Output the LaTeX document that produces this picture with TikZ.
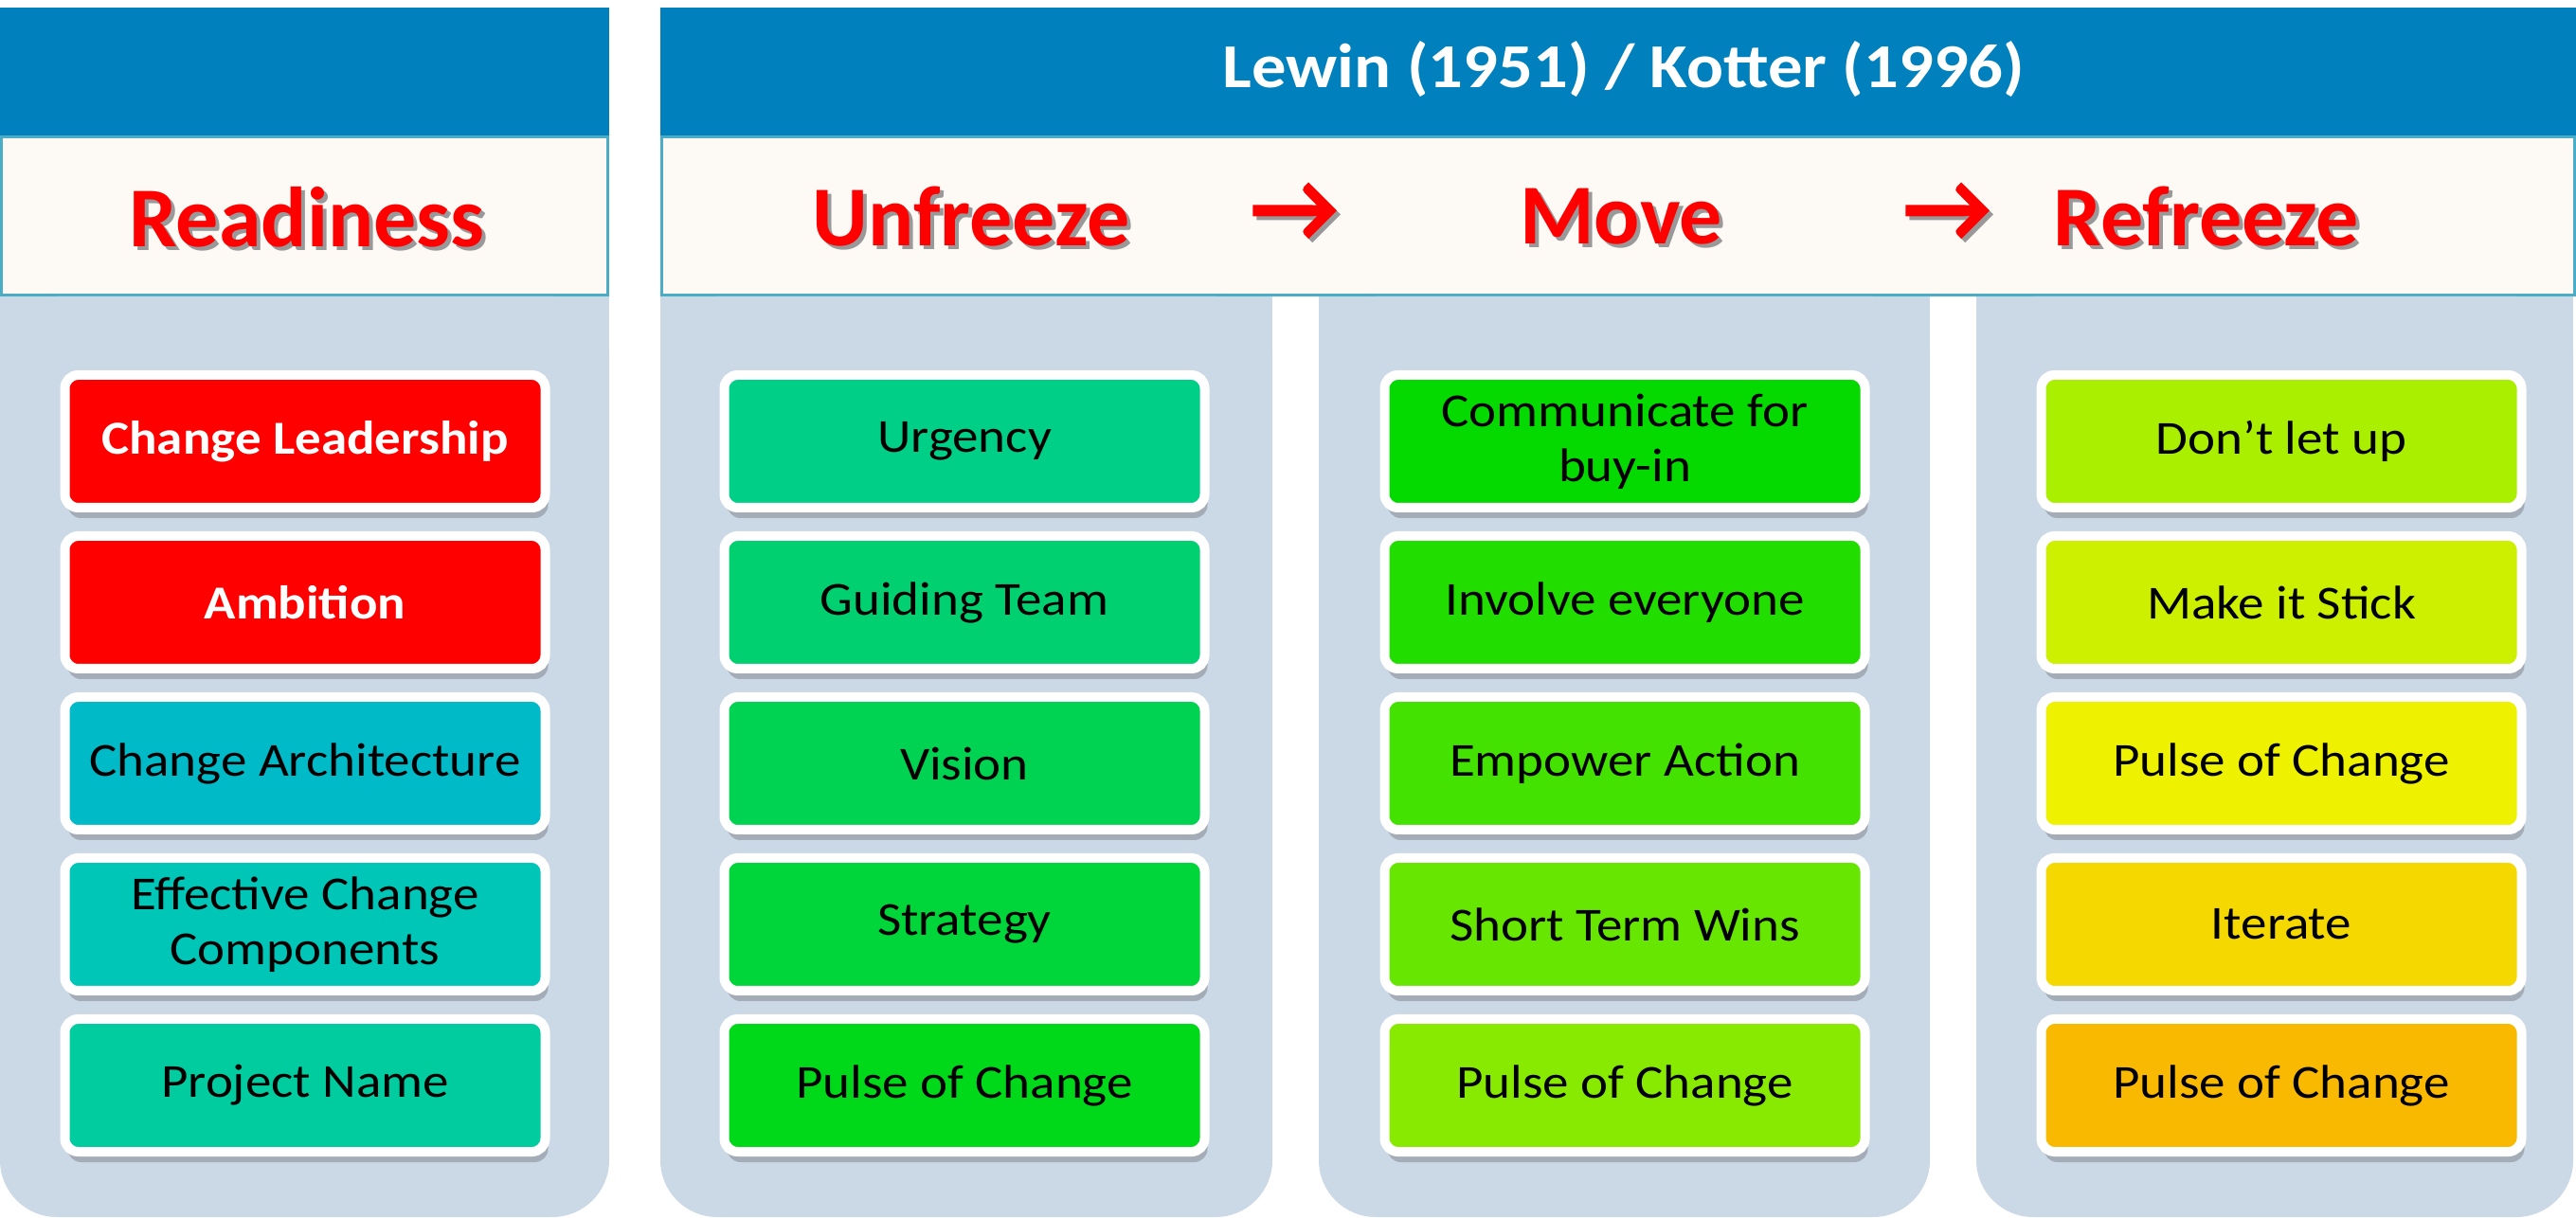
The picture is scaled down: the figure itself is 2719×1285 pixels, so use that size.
\documentclass[tikz,border=0pt]{standalone}
\usepackage{fontspec}
\setmainfont{Carlito}[FakeStretch=1.1]
\newfontfamily\titlefont{Carlito}
\newfontfamily\arrowfont{Carlito}[FakeBold=4]
\usepackage{xcolor}
\usetikzlibrary{positioning, shadows}

\definecolor{hdrblue}{RGB}{0,128,189}
\definecolor{bandwhite}{RGB}{253,250,246}
\definecolor{bandline}{RGB}{75,172,198}
\definecolor{panelgrey}{RGB}{203,216,230}
\definecolor{titlered}{RGB}{255,0,0}
% readiness
\definecolor{rdA}{RGB}{255,0,0}
\definecolor{rdB}{RGB}{255,0,0}
\definecolor{rdC}{RGB}{0,186,200}
\definecolor{rdD}{RGB}{0,198,184}
\definecolor{rdE}{RGB}{0,204,160}
% unfreeze
\definecolor{ufA}{RGB}{0,207,136}
\definecolor{ufB}{RGB}{0,208,112}
\definecolor{ufC}{RGB}{0,210,82}
\definecolor{ufD}{RGB}{0,213,58}
\definecolor{ufE}{RGB}{0,216,26}
% move
\definecolor{mvA}{RGB}{4,217,0}
\definecolor{mvB}{RGB}{34,222,0}
\definecolor{mvC}{RGB}{68,226,0}
\definecolor{mvD}{RGB}{102,230,0}
\definecolor{mvE}{RGB}{136,234,0}
% refreeze
\definecolor{rfA}{RGB}{170,238,0}
\definecolor{rfB}{RGB}{204,240,0}
\definecolor{rfC}{RGB}{238,242,0}
\definecolor{rfD}{RGB}{245,216,0}
\definecolor{rfE}{RGB}{249,185,0}

\newcommand{\shadowed}[1]{\rlap{\textcolor{black!40}{\kern4pt\raisebox{-4pt}{#1}}}#1}

\begin{document}
\begin{tikzpicture}[x=1pt, y=1pt, node distance=20pt,
		stage/.style={draw=white, line width=10pt, rounded corners=14pt,
			minimum width=507pt, minimum height=140pt, align=center,
			font=\fontsize{50}{58}\selectfont,
			drop shadow={shadow xshift=3pt, shadow yshift=-11pt, opacity=0.3, fill=black!70}},
		hot/.style={text=white, font=\fontsize{50}{58}\selectfont\bfseries},
		title/.style={text=titlered, font=\fontsize{90}{100}\titlefont\bfseries}]
			\useasboundingbox (0,0) rectangle (2719,1285);

			% header bars and white band
			\fill[hdrblue] (0,1140) rectangle (643,1277);
			\fill[hdrblue] (697,1140) rectangle (2719,1277);
			\filldraw[fill=bandwhite, draw=bandline, line width=3pt] (1.5,973.5) rectangle (641.5,1140);
			\filldraw[fill=bandwhite, draw=bandline, line width=3pt] (698.5,973.5) rectangle (2717.5,1140);

			% grey panels
			\begin{scope}[panelgrey]
				\fill[rounded corners=60pt] (0,0) rectangle (643,972);
				\fill (0,700) rectangle (643,972);
				\fill[rounded corners=60pt] (697,0) rectangle (1343,972);
				\fill (697,700) rectangle (1343,972);
				\fill[rounded corners=60pt] (1392,0) rectangle (2037,972);
				\fill (1392,700) rectangle (2037,972);
				\fill[rounded corners=60pt] (2086,0) rectangle (2716,972);
				\fill (2086,700) rectangle (2716,972);
			\end{scope}

			\node[text=white, font=\fontsize{66}{74}\selectfont\bfseries] (hdr) at (1714,1212) {Lewin (1951) / Kotter (1996)};

			\node[title] (ready) at (324,1054) {\shadowed{Readiness}};
			\node[title] (unfr) at (1025,1054) {\shadowed{Unfreeze}};
			\node[title, font=\fontsize{100}{110}\arrowfont] (arrA) at (1366,1059) {\shadowed{→}};
			\node[title] (move) at (1711,1054) {\shadowed{Move}};
			\node[title, font=\fontsize{100}{110}\arrowfont] (arrB) at (2055,1059) {\shadowed{→}};
			\node[title] (refr) at (2329,1054) {\shadowed{Refreeze}};

			% readiness
			\node[stage, hot, fill=rdA] (rd1) at (322,819) {Change Leadership};
			\node[stage, hot, fill=rdB, below=of rd1] (rd2) {Ambition};
			\node[stage, fill=rdC, below=of rd2] (rd3) {Change Architecture};
			\node[stage, fill=rdD, below=of rd3] (rd4) {Effective Change\\Components};
			\node[stage, fill=rdE, below=of rd4] (rd5) {Project Name};

			% unfreeze
			\node[stage, fill=ufA] (uf1) at (1018,819) {Urgency};
			\node[stage, fill=ufB, below=of uf1] (uf2) {Guiding Team};
			\node[stage, fill=ufC, below=of uf2] (uf3) {Vision};
			\node[stage, fill=ufD, below=of uf3] (uf4) {Strategy};
			\node[stage, fill=ufE, below=of uf4] (uf5) {Pulse of Change};

			% move
			\node[stage, fill=mvA] (mv1) at (1715,819) {Communicate for\\buy-in};
			\node[stage, fill=mvB, below=of mv1] (mv2) {Involve everyone};
			\node[stage, fill=mvC, below=of mv2] (mv3) {Empower Action};
			\node[stage, fill=mvD, below=of mv3] (mv4) {Short Term Wins};
			\node[stage, fill=mvE, below=of mv4] (mv5) {Pulse of Change};

			% refreeze
			\node[stage, fill=rfA] (rf1) at (2408,819) {Don’t let up};
			\node[stage, fill=rfB, below=of rf1] (rf2) {Make it Stick};
			\node[stage, fill=rfC, below=of rf2] (rf3) {Pulse of Change};
			\node[stage, fill=rfD, below=of rf3] (rf4) {Iterate};
			\node[stage, fill=rfE, below=of rf4] (rf5) {Pulse of Change};
		\end{tikzpicture}
\end{document}
